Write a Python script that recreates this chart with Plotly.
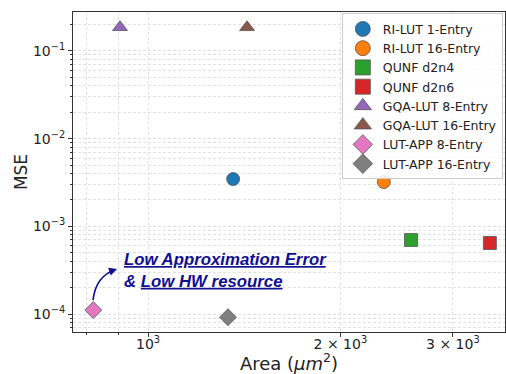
import plotly.graph_objects as go

names = ["RI-LUT 1-Entry", "RI-LUT 16-Entry", "QUNF d2n4", "QUNF d2n6",
         "GQA-LUT 8-Entry", "GQA-LUT 16-Entry", "LUT-APP 8-Entry", "LUT-APP 16-Entry"]
area = [1359, 2339, 2580, 3428, 904, 1429, 821, 1334]
mse = [3.46e-3, 3.2e-3, 6.98e-4, 6.45e-4, 0.186, 0.186, 1.11e-4, 9.2e-5]
colors = ["#1f77b4", "#ff7f0e", "#2ca02c", "#d62728",
          "#9467bd", "#8c564b", "#e377c2", "#7f7f7f"]
symbols = ["circle", "circle", "square", "square",
           "triangle-up", "triangle-up", "diamond", "diamond"]

x_tickvals = [1000, 2000, 3000]
x_ticktext = ["10<sup>3</sup>", "2 × 10<sup>3</sup>", "3 × 10<sup>3</sup>"]
x_minor = [800, 900]
y_tickvals = [1e-4, 1e-3, 1e-2, 1e-1]
y_ticktext = ["10<sup>−4</sup>", "10<sup>−3</sup>", "10<sup>−2</sup>", "10<sup>−1</sup>"]
y_minor = [k * 10.0 ** d for d in range(-5, 0) for k in range(2, 10)]

FONT = "DejaVu Sans"
fig = go.Figure()
for n, a, m, c, s in zip(names, area, mse, colors, symbols):
    fig.add_trace(go.Scatter(
        x=[a], y=[m], mode="markers", name=n, showlegend=False,
        marker=dict(color=c, symbol=s, size=13, line=dict(color="#555555", width=0.8)),
    ))
for n, c, s in zip(names, colors, symbols):
    fig.add_trace(go.Scatter(
        x=[None], y=[None], mode="markers", name=n,
        marker=dict(color=c, symbol=s, size=15, line=dict(color="#555555", width=0.8)),
    ))

grid = dict(showgrid=True, gridcolor="#e2e2e2", griddash="3px,2px", gridwidth=0.8)
fig.update_xaxes(
    type="log", range=[2.8826, 3.5587],
    tickmode="array", tickvals=x_tickvals, ticktext=x_ticktext,
    ticks="outside", ticklen=4, tickcolor="#333333", ticklabelstandoff=-5,
    showline=True, linecolor="#333333", linewidth=1, mirror=True,
    minor=dict(tickmode="array", tickvals=x_minor, ticks="outside", ticklen=2,
               tickcolor="#333333", **grid),
    tickfont=dict(family=FONT, size=14, color="#222222"),
    title=dict(text="Area (<i>μm</i><sup>2</sup>)", font=dict(family=FONT, size=18, color="#222222"),
               standoff=3),
    zeroline=False, **grid,
)
fig.update_yaxes(
    type="log", range=[-4.205, -0.556],
    tickmode="array", tickvals=y_tickvals, ticktext=y_ticktext,
    ticks="outside", ticklen=4, tickcolor="#333333",
    showline=True, linecolor="#333333", linewidth=1, mirror=True,
    minor=dict(tickmode="array", tickvals=y_minor, ticks="outside", ticklen=2,
               tickcolor="#333333", **grid),
    tickfont=dict(family=FONT, size=14, color="#222222"),
    title=dict(text="MSE", font=dict(family=FONT, size=17, color="#222222"), standoff=0),
    zeroline=False, **grid,
)

navy = "#0f0f8f"
# curved arrow (paper coordinates)
fig.add_shape(type="path", xref="paper", yref="paper",
              path="M 0.0463 0.0999 Q 0.0532 0.1749 0.0972 0.1936",
              line=dict(color=navy, width=1.6))
fig.add_annotation(xref="paper", yref="paper", x=0.1019, y=0.1967, text="",
                   showarrow=True, arrowhead=2, arrowsize=1, arrowwidth=1.6,
                   arrowcolor=navy, ax=-9, ay=3)
fig.add_annotation(xref="paper", yref="paper", x=0.113, y=0.193,
                   xanchor="left", yanchor="middle", align="left", showarrow=False,
                   text="<b><i><u>Low Approximation Error</u><br>&amp; <u>Low HW resource</u></i></b>",
                   font=dict(family="Liberation Sans", size=16.8, color=navy))

fig.update_layout(
    width=506, height=374,
    margin=dict(l=73, r=1, t=12, b=42),
    plot_bgcolor="white", paper_bgcolor="white",
    legend=dict(x=0.995, y=0.996, xanchor="right", yanchor="top",
                bgcolor="rgba(255,255,255,0.85)", bordercolor="#cccccc", borderwidth=1,
                font=dict(family=FONT, size=12.5, color="#222222"),
                itemsizing="trace", tracegroupgap=0),
)
fig.write_html("out.html", config={"displayModeBar": False},
               post_script="document.body.style.margin='0';document.body.style.padding='0';")
